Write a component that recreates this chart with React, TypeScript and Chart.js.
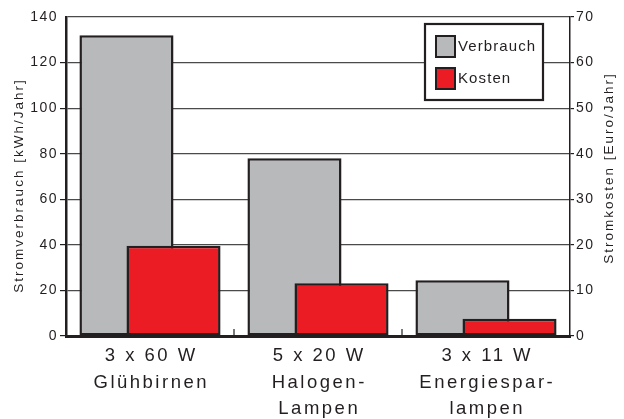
import React, { useEffect, useRef } from "react";
import { Chart, registerables } from "chart.js";

Chart.register(...registerables);

// ---- data ----
const categories: string[][] = [
  ["3 x 60 W", "Glühbirnen"],
  ["5 x 20 W", "Halogen-", "Lampen"],
  ["3 x 11 W", "Energiespar-", "lampen"],
];
const verbrauch = [132, 78, 24.5]; // kWh/Jahr (left axis)
const kosten = [19.8, 11.6, 3.8]; // Euro/Jahr (right axis)
const seriesNames = ["Verbrauch", "Kosten"];
const leftTitle = "Stromverbrauch [kWh/Jahr]";
const rightTitle = "Stromkosten [Euro/Jahr]";
const leftMax = 140;
const leftStep = 20;
const rightMax = 70;
const rightStep = 10;

// ---- style ----
const INK = "#231f20";
const GRAY = "#b8b9bb";
const RED = "#ec1c24";
const FONT = "'Liberation Sans', Arial, Helvetica, sans-serif";

const customPlugin = {
  id: "customDraw",
  beforeDraw(chart: any) {
    chart.ctx.letterSpacing = "1.5px";
  },
  beforeDatasetDraw(chart: any, args: any) {
    if (args.index === 1) return false;
    return true;
  },
  afterDatasetsDraw(chart: any) {
    const meta = chart.getDatasetMeta(1);
    if (meta && !meta.hidden) meta.controller.draw();
  },
  afterDraw(chart: any) {
    const { ctx, chartArea, scales } = chart;
    const x = scales.x;
    ctx.save();

    // small inward ticks at category boundaries
    ctx.strokeStyle = INK;
    ctx.lineWidth = 1.2;
    for (let i = 1; i < categories.length; i++) {
      const px = (x.getPixelForValue(i - 1) + x.getPixelForValue(i)) / 2;
      ctx.beginPath();
      ctx.moveTo(px, chartArea.bottom);
      ctx.lineTo(px, chartArea.bottom - 7);
      ctx.stroke();
    }

    // category labels
    ctx.fillStyle = INK;
    ctx.font = `18.5px ${FONT}`;
    ctx.letterSpacing = "2.5px";
    ctx.textAlign = "center";
    ctx.textBaseline = "middle";
    categories.forEach((lines, i) => {
      const px = x.getPixelForValue(i);
      lines.forEach((t, k) => {
        ctx.fillText(t, px + 1.25, chartArea.bottom + 20 + k * 26.5);
      });
    });

    // axis titles (both read bottom-to-top)
    ctx.font = `13.5px ${FONT}`;
    ctx.letterSpacing = "2px";
    const mid = (chartArea.top + chartArea.bottom) / 2;
    ctx.save();
    ctx.translate(chartArea.left - 46.5, mid + 10);
    ctx.rotate(-Math.PI / 2);
    ctx.fillText(leftTitle, 1, 0);
    ctx.restore();
    ctx.save();
    ctx.translate(chartArea.right + 39, mid - 7.5);
    ctx.rotate(-Math.PI / 2);
    ctx.fillText(rightTitle, 1, 0);
    ctx.restore();

    // legend box inside chart area
    const bx = chartArea.right - 145;
    const by = chartArea.top + 7;
    const bw = 118;
    const bh = 76;
    ctx.fillStyle = "#ffffff";
    ctx.fillRect(bx, by, bw, bh);
    ctx.strokeStyle = INK;
    ctx.lineWidth = 2.2;
    ctx.strokeRect(bx, by, bw, bh);
    const colors = [GRAY, RED];
    ctx.font = `15px ${FONT}`;
    ctx.letterSpacing = "1.1px";
    ctx.textAlign = "left";
    ctx.textBaseline = "middle";
    seriesNames.forEach((name, i) => {
      const sx = bx + 11;
      const sy = by + 12 + i * 32;
      ctx.fillStyle = colors[i];
      ctx.fillRect(sx, sy, 19, 21);
      ctx.lineWidth = 2;
      ctx.strokeStyle = INK;
      ctx.strokeRect(sx, sy, 19, 21);
      ctx.fillStyle = INK;
      ctx.fillText(name, sx + 22, sy + 11);
    });

    ctx.restore();
  },
};

export default function App() {
  const ref = useRef<HTMLCanvasElement | null>(null);

  useEffect(() => {
    if (!ref.current) return;
    const chart = new Chart(ref.current, {
      type: "bar",
      data: {
        labels: categories.map((c) => c.join(" ")),
        datasets: [
          {
            label: seriesNames[0],
            data: verbrauch,
            backgroundColor: GRAY,
            borderColor: INK,
            borderWidth: 2.5,
            borderSkipped: false,
            categoryPercentage: 0.56,
            barPercentage: 2.0,
            yAxisID: "y",
          },
          {
            label: seriesNames[1],
            data: kosten,
            backgroundColor: RED,
            borderColor: INK,
            borderWidth: 2.5,
            borderSkipped: false,
            categoryPercentage: 0.56,
            barPercentage: 2.0,
            yAxisID: "y2",
          },
        ],
      },
      options: {
        responsive: false,
        animation: false,
        layout: { padding: { top: 17, left: 0, right: 0, bottom: 0 } },
        plugins: {
          legend: { display: false },
          tooltip: { enabled: false },
          title: { display: false },
        },
        scales: {
          x: {
            type: "category",
            offset: true,
            grid: { display: false },
            border: { display: true, color: INK, width: 3 },
            ticks: { display: false },
            afterFit(s: any) {
              s.height = 83;
            },
          },
          y: {
            position: "left",
            min: 0,
            max: leftMax,
            ticks: {
              stepSize: leftStep,
              color: INK,
              font: { family: FONT, size: 14 },
              padding: 2,
            },
            grid: {
              color: "#4a4a4a",
              lineWidth: 1.2,
              tickLength: 6,
              tickColor: (c: any) => (c.tick && c.tick.value === leftMax ? "rgba(0,0,0,0)" : INK),
            },
            border: { color: INK, width: 2.5 },
            afterFit(s: any) {
              s.width = 66;
            },
          },
          y2: {
            position: "right",
            min: 0,
            max: rightMax,
            ticks: {
              stepSize: rightStep,
              color: INK,
              font: { family: FONT, size: 14 },
              padding: 2,
            },
            grid: { drawOnChartArea: false, tickLength: 4, tickColor: INK, lineWidth: 1.2 },
            border: { color: INK, width: 1.5 },
            afterFit(s: any) {
              s.width = 54;
            },
          },
        },
      },
      plugins: [customPlugin],
    } as any);
    return () => chart.destroy();
  }, []);

  return (
    <div style={{ position: "fixed", left: 0, top: 0, width: 624, height: 419, background: "#fff" }}>
      <canvas ref={ref} width={624} height={419} style={{ display: "block" }} />
    </div>
  );
}
